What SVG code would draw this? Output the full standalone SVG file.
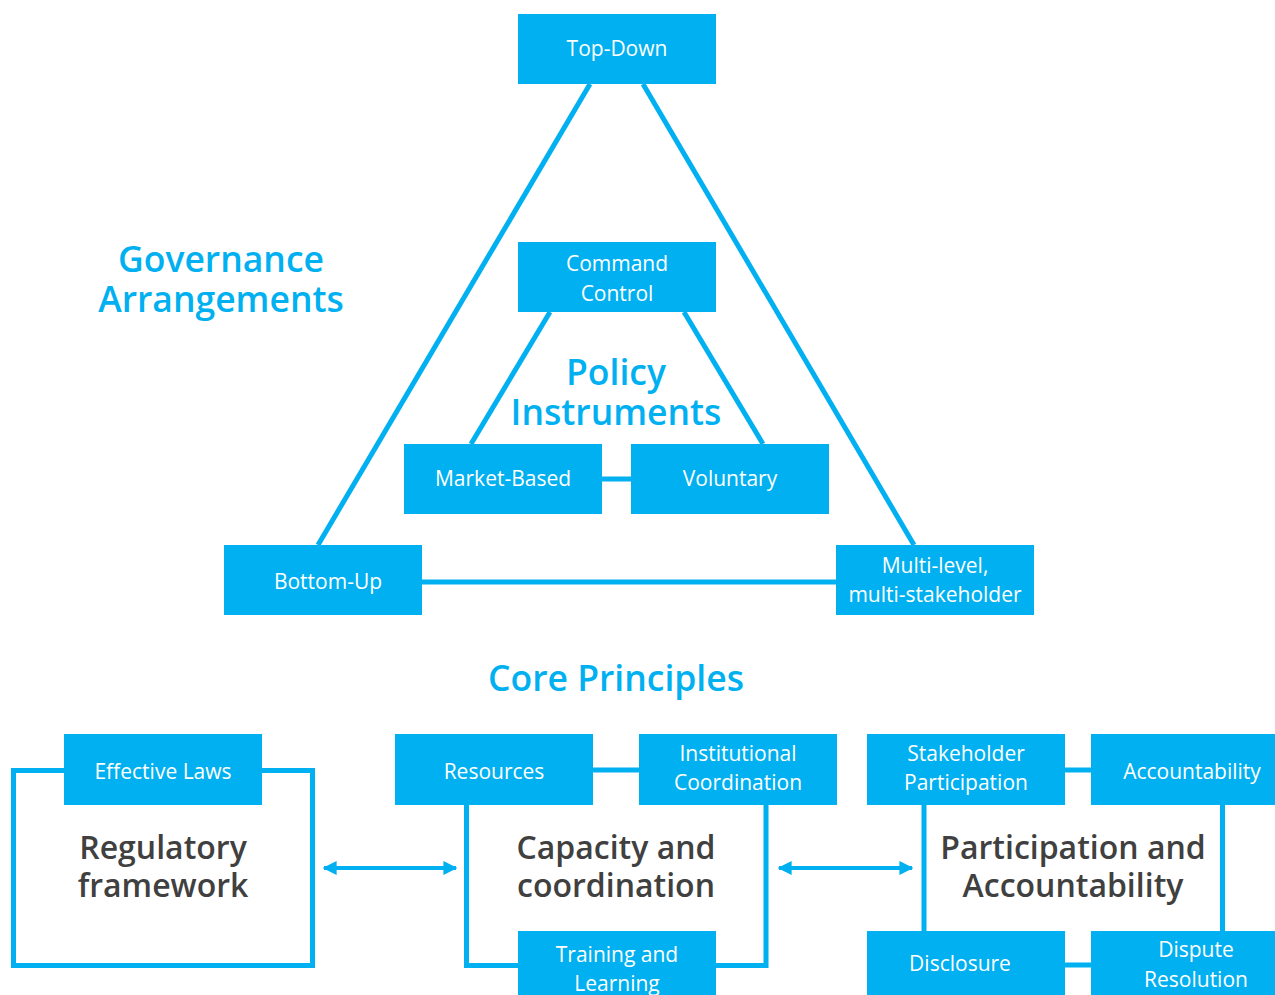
<svg xmlns="http://www.w3.org/2000/svg" width="1275" height="995" viewBox="0 0 1275 995">
<defs>
<style>
.box{fill:#00B0F0}
.bt{fill:#ffffff;font-family:"Open Sans","Liberation Sans",sans-serif;font-size:21px;text-anchor:middle}
.hd{fill:#00B0F0;font-family:"Open Sans","Liberation Sans",sans-serif;font-size:35.5px;font-weight:600;text-anchor:middle}
.dk{fill:#404040;font-family:"Open Sans","Liberation Sans",sans-serif;font-size:32px;font-weight:600;text-anchor:middle}
.ln{stroke:#00B0F0;stroke-width:5;fill:none}
.ar{stroke:#00B0F0;stroke-width:4;fill:none}
</style>
<marker id="ah" viewBox="0 0 10 10" refX="9" refY="5" markerWidth="3.5" markerHeight="5" orient="auto-start-reverse" markerUnits="strokeWidth">
<path d="M0,0 L10,5 L0,10 Z" fill="#00B0F0"/>
</marker>
</defs>
<rect width="1275" height="995" fill="#ffffff"/>

<g id="connectors">
<line class="ln" x1="590" y1="84" x2="318" y2="545"/>
<line class="ln" x1="643" y1="84" x2="914" y2="545"/>
<line class="ln" x1="422" y1="582" x2="836" y2="582"/>
<line class="ln" x1="550" y1="312" x2="471" y2="444"/>
<line class="ln" x1="684" y1="312" x2="763" y2="444"/>
<line class="ln" x1="602" y1="479" x2="631" y2="479"/>
<rect class="ln" x="13.5" y="770.5" width="299" height="195"/>
<polyline class="ln" points="466.5,805 466.5,965.5 518,965.5"/>
<polyline class="ln" points="716,965.5 766,965.5 766,805"/>
<line class="ln" x1="593" y1="770" x2="639" y2="770"/>
<line class="ln" x1="1065" y1="770" x2="1091" y2="770"/>
<line class="ln" x1="1065" y1="965" x2="1091" y2="965"/>
<line class="ln" x1="924" y1="805" x2="924" y2="931"/>
<line class="ln" x1="1222.5" y1="805" x2="1222.5" y2="931"/>
<line class="ar" x1="324" y1="868" x2="456" y2="868" marker-start="url(#ah)" marker-end="url(#ah)"/>
<line class="ar" x1="779" y1="868" x2="912" y2="868" marker-start="url(#ah)" marker-end="url(#ah)"/>
</g>

<g id="title-governance"><text class="hd" x="221" y="272">Governance</text><text class="hd" x="221" y="312">Arrangements</text></g>
<g id="title-policy"><text class="hd" x="616" y="385">Policy</text><text class="hd" x="616" y="425">Instruments</text></g>
<g id="title-core"><text class="hd" x="616" y="691">Core Principles</text></g>

<g id="top-down"><rect class="box" x="518" y="14" width="198" height="70"/><text class="bt" x="617" y="56">Top-Down</text></g>
<g id="command-control"><rect class="box" x="518" y="242" width="198" height="70"/><text class="bt" x="617" y="271">Command</text><text class="bt" x="617" y="301">Control</text></g>
<g id="market-based"><rect class="box" x="404" y="444" width="198" height="70"/><text class="bt" x="503" y="486">Market-Based</text></g>
<g id="voluntary"><rect class="box" x="631" y="444" width="198" height="70"/><text class="bt" x="730" y="486">Voluntary</text></g>
<g id="bottom-up"><rect class="box" x="224" y="545" width="198" height="70"/><text class="bt" x="328" y="589">Bottom-Up</text></g>
<g id="multi-level"><rect class="box" x="836" y="545" width="198" height="70"/><text class="bt" x="935" y="573">Multi-level,</text><text class="bt" x="935" y="602">multi-stakeholder</text></g>

<g id="regulatory"><text class="dk" x="163" y="859">Regulatory</text><text class="dk" x="163" y="897">framework</text></g>
<g id="effective-laws"><rect class="box" x="64" y="734" width="198" height="71"/><text class="bt" x="163" y="779">Effective Laws</text></g>

<g id="capacity"><text class="dk" x="616" y="859">Capacity and</text><text class="dk" x="616" y="897">coordination</text></g>
<g id="resources"><rect class="box" x="395" y="734" width="198" height="71"/><text class="bt" x="494" y="779">Resources</text></g>
<g id="institutional"><rect class="box" x="639" y="734" width="198" height="71"/><text class="bt" x="738" y="761">Institutional</text><text class="bt" x="738" y="790">Coordination</text></g>
<g id="training"><rect class="box" x="518" y="931" width="198" height="70"/><text class="bt" x="617" y="962">Training and</text><text class="bt" x="617" y="991">Learning</text></g>

<g id="participation"><text class="dk" x="1073" y="859">Participation and</text><text class="dk" x="1073" y="897">Accountability</text></g>
<g id="stakeholder"><rect class="box" x="867" y="734" width="198" height="71"/><text class="bt" x="966" y="761">Stakeholder</text><text class="bt" x="966" y="790">Participation</text></g>
<g id="accountability"><rect class="box" x="1091" y="734" width="198" height="71"/><text class="bt" x="1192" y="779">Accountability</text></g>
<g id="disclosure"><rect class="box" x="867" y="931" width="198" height="70"/><text class="bt" x="960" y="971">Disclosure</text></g>
<g id="dispute"><rect class="box" x="1091" y="931" width="198" height="70"/><text class="bt" x="1196" y="957">Dispute</text><text class="bt" x="1196" y="987">Resolution</text></g>
</svg>
